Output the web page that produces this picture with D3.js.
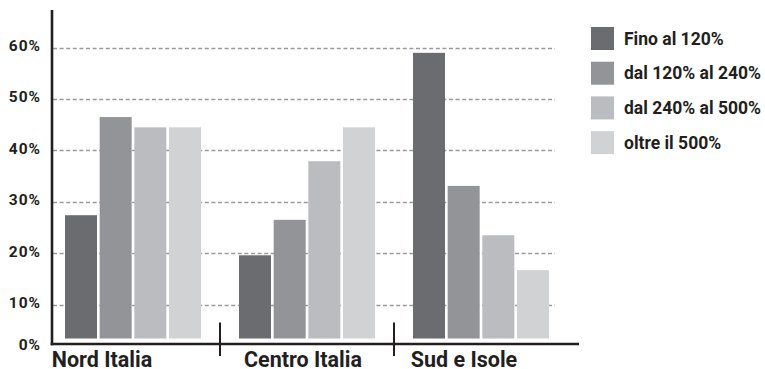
<!DOCTYPE html>
<html>
<head>
<meta charset="utf-8">
<script src="https://cdn.jsdelivr.net/npm/d3@7"></script>
<style>
  html, body { margin: 0; padding: 0; background: #fff; }
  svg { display: block; }
  text { font-family: "Roboto", "DejaVu Sans Condensed", sans-serif; font-weight: 700; fill: #231f20; }
</style>
</head>
<body>
<svg id="chart" width="765" height="369"></svg>
<script>
// Regions and income brackets
const regions = ["Nord Italia", "Centro Italia", "Sud e Isole"];
const brackets = ["Fino al 120%", "dal 120% al 240%", "dal 240% al 500%", "oltre il 500%"];

// Share per bracket, one array per region (percent)
const nordValues   = [27.4, 46.5, 44.5, 44.5];
const centroValues = [19.6, 26.5, 37.9, 44.5];
const sudValues    = [59.0, 33.1, 23.5, 16.7];

const yTicks = [10, 20, 30, 40, 50, 60];
const colors = ["#6b6c70", "#939498", "#bbbcbf", "#d1d2d4"];

const valuesByRegion = [nordValues, centroValues, sudValues];

const svg = d3.select("#chart");

// Layout
const axisX = 52;
const axisY = 344;
const barBase = 338.5;
const axisRight = 579;
const gridRight = 555;

const y = d3.scaleLinear().domain([0, 60]).range([356, 47.7]);

const x0 = d3.scaleBand()
  .domain(regions)
  .range([46, 568])
  .paddingInner(38 / 174)
  .paddingOuter(19 / 174);

const x1 = d3.scaleBand()
  .domain(brackets)
  .range([0, x0.bandwidth()])
  .paddingInner(0.077)
  .paddingOuter(0);

// Dashed gridlines
svg.append("g")
  .selectAll("line")
  .data(yTicks)
  .join("line")
  .attr("x1", axisX + 1)
  .attr("x2", gridRight)
  .attr("y1", d => Math.round(y(d)) + 0.5)
  .attr("y2", d => Math.round(y(d)) + 0.5)
  .attr("stroke", "#9a9a9c")
  .attr("stroke-width", 1.3)
  .attr("stroke-dasharray", "4,2.6");

// Bars
const groups = svg.append("g")
  .selectAll("g")
  .data(regions.map((r, i) => ({ region: r, values: valuesByRegion[i] })))
  .join("g")
  .attr("transform", d => `translate(${x0(d.region)},0)`);

groups.selectAll("rect")
  .data(d => d.values.map((v, j) => ({ bracket: brackets[j], value: v, color: colors[j] })))
  .join("rect")
  .attr("x", d => x1(d.bracket))
  .attr("y", d => y(d.value))
  .attr("width", x1.bandwidth())
  .attr("height", d => barBase - y(d.value))
  .attr("fill", d => d.color);

// Y axis labels
const yAxis = d3.axisLeft(y).tickValues(yTicks).tickFormat(d => d + "%").tickSize(0).tickPadding(0);
const yAxisG = svg.append("g")
  .attr("transform", `translate(41,0)`)
  .call(yAxis);
yAxisG.select(".domain").remove();
yAxisG.selectAll("text")
  .attr("dy", "0.18em")
  .style("font-size", "15.5px")
  .style("letter-spacing", "1px")
  .style("font-family", null)
  .attr("fill", "#231f20");

svg.append("text")
  .attr("x", 41)
  .attr("y", 350)
  .attr("text-anchor", "end")
  .style("font-size", "15.5px")
  .style("letter-spacing", "1px")
  .text("0%");

// Axis lines
svg.append("line")
  .attr("x1", axisX).attr("x2", axisX)
  .attr("y1", 10).attr("y2", axisY + 1.3)
  .attr("stroke", "#231f20").attr("stroke-width", 2.6);

svg.append("line")
  .attr("x1", axisX - 1.3).attr("x2", axisRight)
  .attr("y1", axisY).attr("y2", axisY)
  .attr("stroke", "#231f20").attr("stroke-width", 2.6);

// Separators between regions
const seps = regions.slice(0, -1).map((r, i) => {
  const end = x0(r) + x0.bandwidth();
  const next = x0(regions[i + 1]);
  return (end + next) / 2;
});
svg.append("g")
  .selectAll("line")
  .data(seps)
  .join("line")
  .attr("x1", d => d).attr("x2", d => d)
  .attr("y1", 322.5).attr("y2", 356)
  .attr("stroke", "#231f20").attr("stroke-width", 2);

// Region labels
const labelShift = [-31, -4, -17];
svg.append("g")
  .selectAll("text")
  .data(regions)
  .join("text")
  .attr("x", (d, i) => x0(d) + x0.bandwidth() / 2 + labelShift[i])
  .attr("y", 366.5)
  .attr("text-anchor", "middle")
  .style("font-size", "21.5px")
  .text(d => d);

// Legend
const legend = svg.append("g").attr("transform", "translate(591,27)");
const items = legend.selectAll("g")
  .data(brackets)
  .join("g")
  .attr("transform", (d, i) => `translate(0,${i * 34.7})`);
items.append("rect")
  .attr("width", 23).attr("height", 23)
  .attr("fill", (d, i) => colors[i]);
items.append("text")
  .attr("x", 33)
  .attr("y", 11.5)
  .attr("dy", "0.36em")
  .style("font-size", "17.5px")
  .text(d => d);
</script>
</body>
</html>
